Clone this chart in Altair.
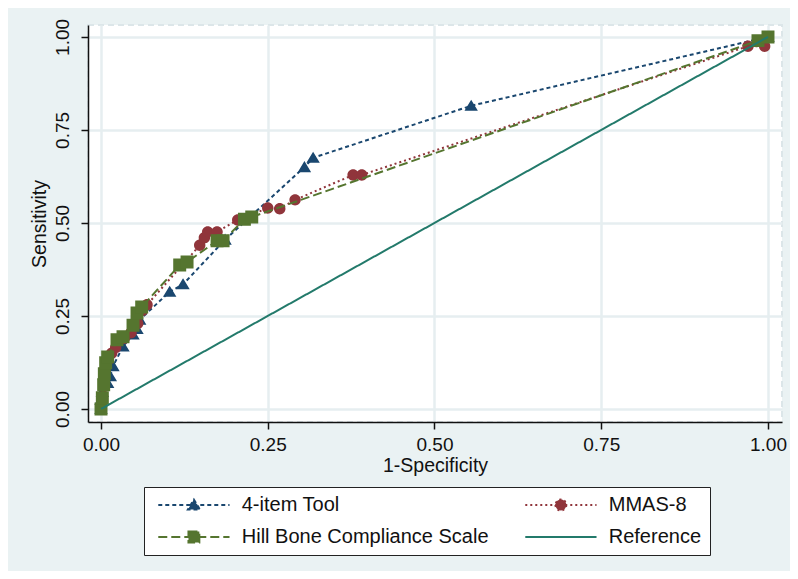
import altair as alt
import pandas as pd

# ---- data ----
series_names = ["4-item Tool", "MMAS-8", "Hill Bone Compliance Scale", "Reference"]
series_colors = ["#1A476F", "#90353B", "#55752F", "#237A6B"]
series_dashes = [[4, 3], [2, 3], [9, 4], [1, 0]]
# legend entries are filled column by column: column 1 then column 2
legend_order = ["4-item Tool", "Hill Bone Compliance Scale", "MMAS-8", "Reference"]

# symbol paths (unit box scaled by sqrt(size)/2): a marker with a long line through it for the legend
LINE = "M-9.5,0H9.5"
series_shapes = [
    LINE + " M0,-1.45L1.6,1.2L-1.6,1.2Z",
    LINE + " M-1.45,0A1.45,1.45 0 1,0 1.45,0A1.45,1.45 0 1,0 -1.45,0Z",
    LINE + " M-1.45,-1.45H1.45V1.45H-1.45Z",
    LINE,
]
point_sizes = [70, 62, 80]

tool4_x = [0.0, 0.0, 0.002, 0.010, 0.014, 0.018, 0.033, 0.048, 0.054, 0.058, 0.103, 0.123, 0.186, 0.305, 0.318, 0.555, 1.0]
tool4_y = [0.0, 0.025, 0.046, 0.070, 0.088, 0.115, 0.168, 0.200, 0.215, 0.240, 0.315, 0.335, 0.455, 0.650, 0.675, 0.815, 1.0]

mmas_x = [0.0, 0.004, 0.006, 0.010, 0.016, 0.022, 0.035, 0.045, 0.055, 0.062, 0.069, 0.148, 0.155, 0.160, 0.174, 0.205, 0.250, 0.268, 0.291, 0.378, 0.391, 0.970, 0.995, 1.0]
mmas_y = [0.0, 0.060, 0.105, 0.130, 0.150, 0.165, 0.190, 0.205, 0.230, 0.265, 0.280, 0.440, 0.460, 0.476, 0.476, 0.508, 0.540, 0.538, 0.562, 0.629, 0.629, 0.975, 0.975, 1.0]

hill_x = [0.0, 0.002, 0.004, 0.005, 0.007, 0.010, 0.024, 0.033, 0.048, 0.054, 0.061, 0.118, 0.129, 0.174, 0.183, 0.215, 0.226, 0.985, 1.0]
hill_y = [0.0, 0.030, 0.065, 0.095, 0.124, 0.140, 0.186, 0.194, 0.225, 0.258, 0.274, 0.387, 0.395, 0.452, 0.452, 0.510, 0.516, 0.990, 1.0]

ref_x = [0.0, 1.0]
ref_y = [0.0, 1.0]

tick_values = [0, 0.25, 0.5, 0.75, 1.0]

rows = []
for name, xs, ys in [
    (series_names[0], tool4_x, tool4_y),
    (series_names[1], mmas_x, mmas_y),
    (series_names[2], hill_x, hill_y),
    (series_names[3], ref_x, ref_y),
]:
    for i, (x, y) in enumerate(zip(xs, ys)):
        rows.append({"series": name, "fpr": x, "tpr": y, "order": i})
df = pd.DataFrame(rows)

FONT = "Liberation Sans"

xscale = alt.Scale(domain=[-0.0195, 1.021], nice=False, zero=False)
yscale = alt.Scale(domain=[-0.035, 1.032], nice=False, zero=False)

x_enc = alt.X(
    "fpr:Q", scale=xscale, title="1-Specificity",
    axis=alt.Axis(values=tick_values, format=".2f", labelPadding=6, titlePadding=2,
                  tickSize=7, labelFontSize=19, titleFontSize=19.5),
)
y_enc = alt.Y(
    "tpr:Q", scale=yscale, title="Sensitivity",
    axis=alt.Axis(values=tick_values, format=".2f", labelAngle=270, labelAlign="center",
                  labelBaseline="bottom", labelPadding=9, titlePadding=4, tickSize=7,
                  labelFontSize=19, titleFontSize=19.5),
)

legend = alt.Legend(
    title=None, orient="none", legendX=56, legendY=462, columns=2, values=legend_order,
    columnPadding=30, rowPadding=12, padding=8, strokeColor="#222222",
    fillColor="white", labelFontSize=20, labelFont=FONT, labelColor="#111111",
    labelLimit=400, symbolSize=56.25, symbolOffset=31.9, labelOffset=37.85,
    symbolStrokeWidth=2,
)

color_scale = alt.Scale(domain=series_names, range=series_colors)
dash_scale = alt.Scale(domain=series_names, range=series_dashes)
shape_scale = alt.Scale(domain=series_names, range=series_shapes)

layers = []
for i, name in enumerate(series_names):
    base = alt.Chart(df).transform_filter(alt.datum.series == name)
    line = base.mark_line(strokeWidth=2).encode(
        x=x_enc, y=y_enc,
        color=alt.Color("series:N", scale=color_scale, sort=series_names, legend=legend),
        strokeDash=alt.StrokeDash("series:N", scale=dash_scale, sort=series_names, legend=legend),
        order="order:Q",
    )
    layers.append(line)
    if i < 3:
        pts = base.mark_point(filled=True, opacity=1, size=point_sizes[i]).encode(
            x=x_enc, y=y_enc,
            color=alt.Color("series:N", scale=color_scale, sort=series_names, legend=legend),
            shape=alt.Shape("series:N", scale=shape_scale, sort=series_names, legend=legend),
        )
        layers.append(pts)

chart = alt.layer(*layers).properties(
    width=694, height=397,
    autosize=alt.AutoSizeParams(type="none"),
    padding={"left": 80, "top": 17, "right": 8, "bottom": 149},
    background="#EAF2F3",
).configure_view(
    fill="white", stroke="#DCE6E9", strokeDash=[6, 4], strokeWidth=2
).configure_axis(
    labelFont=FONT, titleFont=FONT, labelColor="#111111", titleColor="#111111",
    titleFontWeight="normal", domainColor="#111111", domainWidth=1.5,
    tickColor="#111111", tickWidth=1.5, gridColor="#E6EEF0", gridWidth=2.5,
)

chart.save("out.html", embed_options={"renderer": "svg", "actions": False})
